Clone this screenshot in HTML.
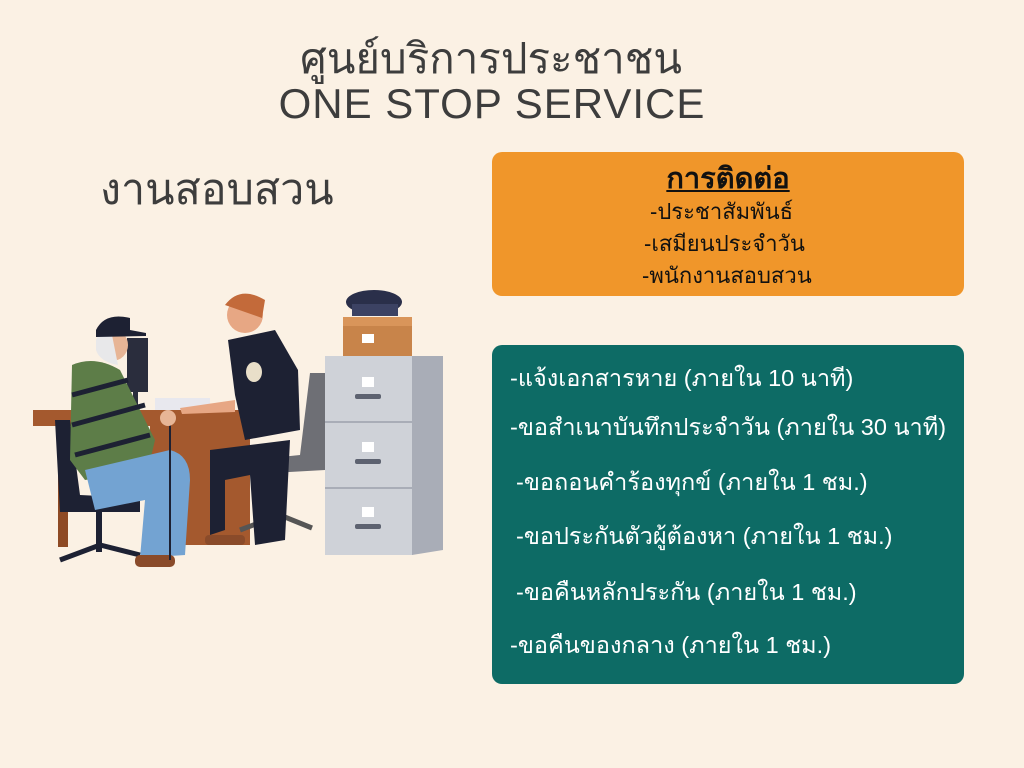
<!DOCTYPE html>
<html><head><meta charset="utf-8"><style>
body{margin:0;width:1024px;height:768px;background:#fbf1e4;font-family:"Liberation Sans","DejaVu Sans",sans-serif;position:relative;overflow:hidden;color:#3d3d3d}
.t{position:absolute;white-space:nowrap}
.box{position:absolute;border-radius:10px}
</style></head><body>
<div class="t" style="left:0;width:982px;text-align:center;top:26px;font-size:42px;">ศูนย์บริการประชาชน</div>
<div class="t" style="left:0;width:984px;text-align:center;top:80px;font-size:42px;letter-spacing:1px">ONE STOP SERVICE</div>
<div class="t" style="left:100px;top:155px;font-size:43px;">งานสอบสวน</div>
<div class="box" style="left:492px;top:152px;width:472px;height:144px;background:#f0962a;color:#111">
<div class="t" style="left:0;width:472px;text-align:center;top:3px;font-size:29px;font-weight:bold;text-decoration:underline">การติดต่อ</div>
<div class="t" style="left:158px;top:42px;font-size:22px">-ประชาสัมพันธ์</div>
<div class="t" style="left:152px;top:74px;font-size:22px">-เสมียนประจำวัน</div>
<div class="t" style="left:150px;top:106px;font-size:22px">-พนักงานสอบสวน</div>
</div>
<div class="box" style="left:492px;top:345px;width:472px;height:339px;background:#0d6b65;color:#fff;font-size:23.5px">
<div class="t" style="left:18px;top:15px">-แจ้งเอกสารหาย (ภายใน 10 นาที)</div>
<div class="t" style="left:18px;top:64px">-ขอสำเนาบันทึกประจำวัน (ภายใน 30 นาที)</div>
<div class="t" style="left:24px;top:119px">-ขอถอนคำร้องทุกข์ (ภายใน 1 ชม.)</div>
<div class="t" style="left:24px;top:173px">-ขอประกันตัวผู้ต้องหา (ภายใน 1 ชม.)</div>
<div class="t" style="left:24px;top:229px">-ขอคืนหลักประกัน (ภายใน 1 ชม.)</div>
<div class="t" style="left:18px;top:282px">-ขอคืนของกลาง (ภายใน 1 ชม.)</div>
</div>
<svg width="1024" height="768" style="position:absolute;left:0;top:0">
<rect x="325" y="356" width="88" height="199" fill="#cfd2d8"/>
<polygon points="412,356 443,356 443,550 412,555" fill="#a9adb7"/>
<line x1="325" y1="422" x2="412" y2="422" stroke="#a9adb7" stroke-width="2"/>
<line x1="325" y1="488" x2="412" y2="488" stroke="#a9adb7" stroke-width="2"/>
<rect x="362" y="377" width="12" height="10" fill="#fff"/><rect x="355" y="394" width="26" height="5" rx="2" fill="#5d6270"/>
<rect x="362" y="442" width="12" height="10" fill="#fff"/><rect x="355" y="459" width="26" height="5" rx="2" fill="#5d6270"/>
<rect x="362" y="507" width="12" height="10" fill="#fff"/><rect x="355" y="524" width="26" height="5" rx="2" fill="#5d6270"/>
<rect x="343" y="317" width="69" height="39" fill="#c8844a"/><rect x="343" y="317" width="69" height="9" fill="#d9955a"/>
<rect x="362" y="334" width="12" height="9" fill="#fff"/>
<ellipse cx="374" cy="302" rx="28" ry="12" fill="#2a2f4a"/><rect x="352" y="304" width="46" height="12" fill="#3c4263"/>
<rect x="33" y="410" width="222" height="16" fill="#a4592e"/>
<rect x="150" y="425" width="100" height="120" fill="#a4592e"/>
<rect x="58" y="425" width="10" height="122" fill="#8e4a24"/>
<rect x="127" y="338" width="21" height="54" fill="#2a2d3d"/><rect x="133" y="392" width="5" height="20" fill="#2a2d3d"/>
<rect x="155" y="398" width="55" height="12" fill="#e8e8ee"/>
<path d="M310 373 L325 373 L325 470 L235 475 L232 462 L300 455 Z" fill="#6e6f75"/>
<rect x="276" y="475" width="5" height="40" fill="#555"/>
<path d="M240 530 L280 515 L312 528" stroke="#555" stroke-width="5" fill="none"/>
<path d="M210 450 L290 440 L285 540 L255 545 L250 475 L225 480 L225 530 L210 535 Z" fill="#1d2133"/>
<path d="M228 340 L275 330 L298 370 L300 430 L245 440 L235 395 Z" fill="#1d2133"/>
<circle cx="245" cy="315" r="18" fill="#e7a784"/>
<path d="M225 305 Q240 285 265 300 L262 318 L245 312 Z" fill="#c36a3a"/>
<path d="M180 408 L235 400 L235 412 L182 414 Z" fill="#e7a784"/>
<ellipse cx="254" cy="372" rx="8" ry="10" fill="#e9dfc9"/>
<rect x="205" y="535" width="40" height="10" rx="4" fill="#8a4b2a"/>
<path d="M55 420 L70 420 L80 495 L140 498 L140 512 L60 512 Z" fill="#1d2133"/>
<rect x="96" y="512" width="6" height="40" fill="#1d2133"/>
<path d="M60 560 L100 545 L140 555" stroke="#1d2133" stroke-width="5" fill="none"/>
<path d="M72 365 Q95 355 120 370 L155 440 L148 470 L85 480 L70 460 Z" fill="#5d7d48"/>
<path d="M72 395 L128 380 M72 425 L145 405 M75 455 L150 435" stroke="#1d2133" stroke-width="5"/>
<path d="M85 470 L170 450 Q190 455 190 480 L185 555 L140 558 L145 500 L95 510 Z" fill="#73a3d2"/>
<rect x="135" y="555" width="40" height="12" rx="5" fill="#8a4b2a"/>
<circle cx="112" cy="345" r="16" fill="#e7b596"/>
<path d="M96 340 Q100 330 112 335 L118 365 Q100 362 96 350 Z" fill="#e8e8ea"/>
<path d="M96 330 Q105 312 130 318 L130 330 L146 333 L146 336 L96 337 Z" fill="#1d2133"/>
<line x1="170" y1="415" x2="170" y2="560" stroke="#1d2133" stroke-width="2"/>
<circle cx="168" cy="418" r="8" fill="#e7b596"/>
</svg>
</body></html>
